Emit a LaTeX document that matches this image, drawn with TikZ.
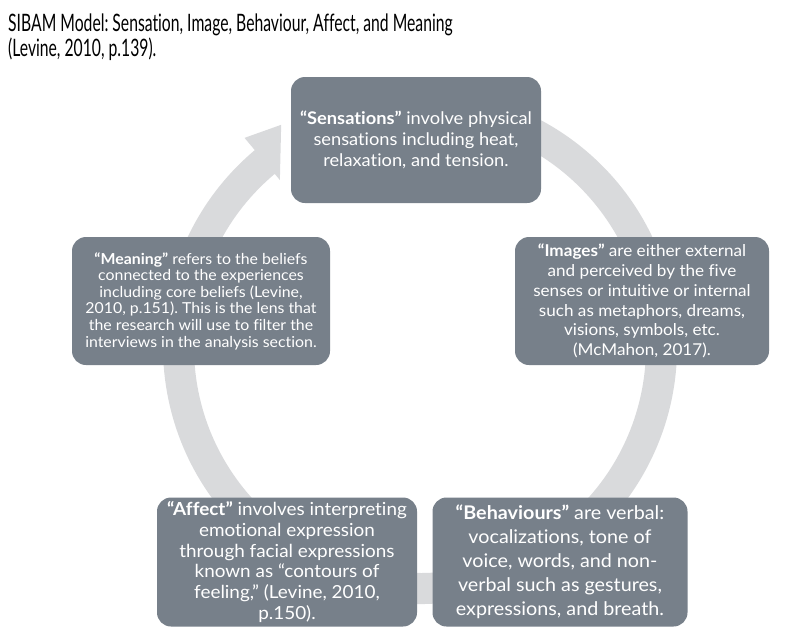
\documentclass[tikz,border=0pt]{standalone}
\usepackage{fontspec}
\setmainfont[FakeStretch=1.05, Ligatures=NoCommon]{Lato}
\newfontfamily\titlefont[FakeStretch=0.655, Ligatures=NoCommon]{Lato}
\frenchspacing
\definecolor{boxgray}{HTML}{77808A}
\definecolor{ringgray}{HTML}{D9DADC}
\tikzset{stage/.style={fill=boxgray, rounded corners=14pt, text=white, align=center,
  minimum width=256pt, minimum height=127pt, inner sep=0pt}}

\begin{document}
\begin{tikzpicture}[x=1pt,y=-1pt]
\useasboundingbox (0,0) rectangle (787,635);
\node[anchor=base west, inner sep=0pt, font=\titlefont\fontsize{24}{26}\selectfont] (title) at (8,31) {SIBAM Model: Sensation, Image, Behaviour, Affect, and Meaning};
\node[anchor=base west, inner sep=0pt, font=\titlefont\fontsize{24}{26}\selectfont] (cite) at (8,56) {(Levine, 2010, p.139).};
\fill[ringgray, shift={(420,347)}] (-100:257) arc[start angle=-100, end angle=230, radius=257] -- (230:273) -- (238:262) -- (230:218) -- (230:226) arc[start angle=230, end angle=-100, radius=226] -- cycle;
\node[stage, minimum width=250pt, minimum height=126pt, font=\fontsize{17.4}{21}\selectfont] (sens) at (416,140) {\textbf{“Sensations”} involve physical\\sensations including heat,\\relaxation, and tension.};
\node[stage, minimum width=254pt, minimum height=128pt, font=\fontsize{16.3}{19.8}\selectfont] (img) at (642,301) {\textbf{“Images”} are either external\\and perceived by the five\\senses or intuitive or internal\\such as metaphors, dreams,\\visions, symbols, etc.\\(McMahon, 2017).};
\node[stage, minimum width=258pt, minimum height=128pt, font=\fontsize{15.1}{16.6}\selectfont] (mean) at (201,301) {\textbf{“Meaning”} refers to the beliefs\\connected to the experiences\\including core beliefs (Levine,\\2010, p.151). This is the lens that\\the research will use to filter the\\interviews in the analysis section.};
\node[stage, minimum width=260pt, minimum height=129pt, font=\fontsize{18}{20.8}\selectfont] (aff) at (287,562) {\textbf{“Affect”} involves interpreting\\emotional expression\\through facial expressions\\known as “contours of\\feeling,” (Levine, 2010,\\p.150).};
\node[stage, minimum width=255pt, minimum height=129pt, font=\fontsize{18.8}{24}\selectfont] (beh) at (560,562) {\textbf{“Behaviours”} are verbal:\\vocalizations, tone of\\voice, words, and non-\\verbal such as gestures,\\expressions, and breath.};
\end{tikzpicture}
\end{document}
